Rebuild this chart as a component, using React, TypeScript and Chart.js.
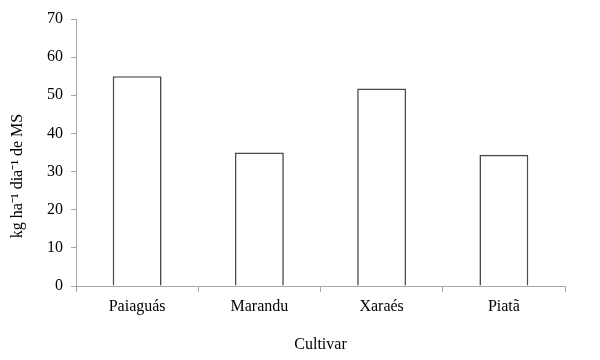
import React, { useEffect, useRef } from "react";
import { Chart, registerables } from "chart.js";

Chart.register(...registerables);

const categories = ["Paiaguás", "Marandu", "Xaraés", "Piatã"];
const values = [55, 35, 51.8, 34.4];
const yTitle = "kg ha\u207B\u00B9 dia\u207B\u00B9 de MS";
const xTitle = "Cultivar";

const FONT_FAMILY = "'Liberation Serif', 'Times New Roman', serif";

const yTitlePlugin = {
  id: "yTitlePlugin",
  afterDraw(chart: any) {
    const ctx = chart.ctx;
    ctx.save();
    ctx.font = `16px ${FONT_FAMILY}`;
    ctx.fillStyle = "#000";
    ctx.textAlign = "center";
    ctx.textBaseline = "middle";
    ctx.translate(18, 176);
    ctx.rotate(-Math.PI / 2);
    ctx.fillText(yTitle, 0, 0);
    ctx.restore();
  },
};

export default function App() {
  const ref = useRef<HTMLCanvasElement | null>(null);
  useEffect(() => {
    if (!ref.current) return;
    const font = { family: FONT_FAMILY, size: 16 };
    const axisColor = "#a6a6a6";
    const chart = new Chart(ref.current, {
      type: "bar",
      data: {
        labels: categories,
        datasets: [
          {
            data: values,
            backgroundColor: "#ffffff",
            borderColor: "#4a4a4a",
            borderWidth: 1.6,
            categoryPercentage: 1,
            barPercentage: 0.4,
          },
        ],
      },
      options: {
        animation: false,
        responsive: false,
        maintainAspectRatio: false,
        layout: { padding: { top: 19, right: 35, left: 2, bottom: 0 } },
        plugins: { legend: { display: false }, tooltip: { enabled: false } },
        scales: {
          x: {
            grid: { drawOnChartArea: false, tickLength: 6, color: axisColor, offset: true },
            border: { display: true, color: axisColor, width: 1 },
            ticks: { color: "#000", font, padding: 5 },
            title: { display: true, text: xTitle, color: "#000", font, padding: { top: 4, bottom: 6 } },
            afterFit: (s: any) => { s.height = 74; },
          },
          y: {
            min: 0,
            max: 70,
            ticks: { stepSize: 10, color: "#000", font, padding: 8 },
            grid: { drawOnChartArea: false, tickLength: 5, color: axisColor },
            border: { display: true, color: axisColor, width: 1 },
            title: { display: false },
            afterFit: (s: any) => { s.width = 74; },
          },
        },
      },
      plugins: [yTitlePlugin],
    });
    return () => chart.destroy();
  }, []);
  return (
    <div style={{ position: "fixed", left: 0, top: 0, width: 600, height: 360, background: "#fff" }}>
      <canvas ref={ref} width={600} height={360} style={{ width: 600, height: 360 }} />
    </div>
  );
}
